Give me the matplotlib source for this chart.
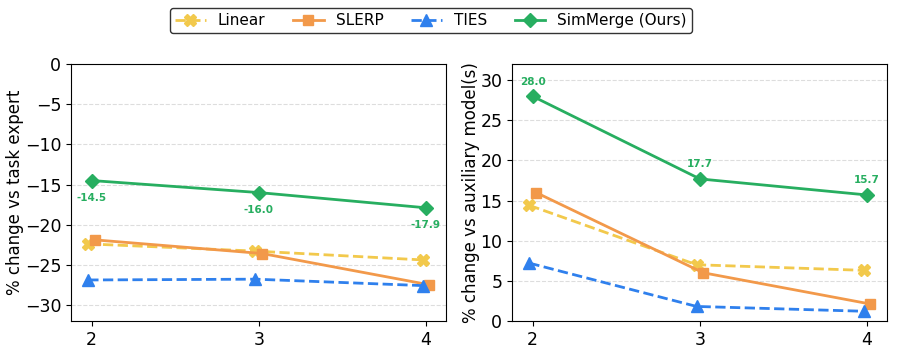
import matplotlib.pyplot as plt

# Data
x = [2, 3, 4]
methods = ['Linear', 'SLERP', 'TIES', 'SimMerge (Ours)']

expert_linear = [-22.4, -23.3, -24.4]
expert_slerp = [-21.9, -23.6, -27.5]
expert_ties = [-26.9, -26.8, -27.6]
expert_simmerge = [-14.5, -16.0, -17.9]

aux_linear = [14.4, 7.0, 6.3]
aux_slerp = [16.0, 6.0, 2.1]
aux_ties = [7.2, 1.8, 1.2]
aux_simmerge = [28.0, 17.7, 15.7]

styles = {
    'Linear': dict(color='#f2c94c', marker='X', ls='--', ms=8, dx=-0.02),
    'SLERP': dict(color='#f2994a', marker='s', ls='-', ms=7, dx=0.02),
    'TIES': dict(color='#2f80ed', marker='^', ls='--', ms=8, dx=-0.02),
    'SimMerge (Ours)': dict(color='#27ae60', marker='D', ls='-', ms=7, dx=0.0),
}

fig, axes = plt.subplots(1, 2, figsize=(8.97, 3.53), dpi=100)


def draw(ax, series, ylabel, ylim, label_above):
    for name, vals in zip(methods, series):
        s = styles[name]
        xs = [v + s['dx'] for v in x]
        ax.plot(xs, vals, color=s['color'], marker=s['marker'], ls=s['ls'],
                lw=2, ms=s['ms'], label=name)
    sim = series[-1]
    for xi, yi in zip(x, sim):
        if label_above:
            ax.annotate(f'{yi:.1f}', (xi, yi), xytext=(0, 7), textcoords='offset points',
                        ha='center', va='bottom', color='#27ae60', fontsize=7.5,
                        fontweight='bold')
        else:
            ax.annotate(f'{yi:.1f}', (xi, yi), xytext=(0, -9), textcoords='offset points',
                        ha='center', va='top', color='#27ae60', fontsize=7.5,
                        fontweight='bold')
    ax.set_ylim(*ylim)
    ax.set_xlim(1.876, 4.12)
    ax.set_xticks(x)
    ax.set_ylabel(ylabel, fontsize=12, labelpad=0.5)
    ax.tick_params(labelsize=12.5)
    ax.grid(axis='y', ls='--', color='#dddddd', lw=0.8)
    ax.set_axisbelow(True)


draw(axes[0], [expert_linear, expert_slerp, expert_ties, expert_simmerge],
     '% change vs task expert', (-32, 0), False)
axes[0].set_yticks([0, -5, -10, -15, -20, -25, -30])
draw(axes[1], [aux_linear, aux_slerp, aux_ties, aux_simmerge],
     '% change vs auxiliary model(s)', (0, 32), True)
axes[1].set_yticks([0, 5, 10, 15, 20, 25, 30])

handles, labels = axes[0].get_legend_handles_labels()
leg = fig.legend(handles, labels, loc='upper center', ncol=4, fontsize=11,
                 bbox_to_anchor=(0.4805, 1.0), frameon=True, edgecolor='black',
                 handlelength=2.0, columnspacing=1.8, borderpad=0.35)
leg.get_frame().set_linewidth(1.0)

fig.subplots_adjust(left=0.079, right=0.989, top=0.818, bottom=0.091, wspace=0.176)
fig.savefig('out.png', dpi=100)
